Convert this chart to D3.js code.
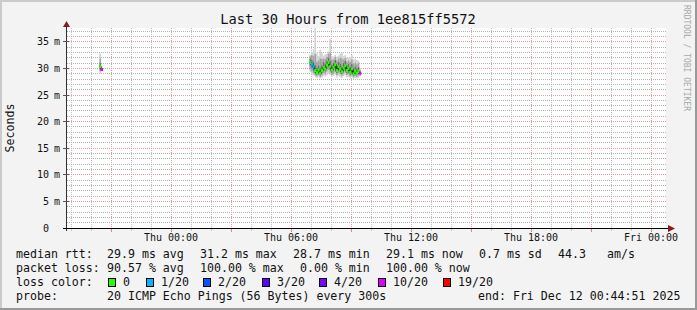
<!DOCTYPE html>
<html>
<head>
<meta charset="utf-8">
<script src="https://cdn.jsdelivr.net/npm/d3@7"></script>
<style>
html, body { margin: 0; padding: 0; background: #f3f3f3; }
svg { display: block; }
text { font-family: "DejaVu Sans Mono", monospace; fill: #111; }
</style>
</head>
<body>
<div id="chart"></div>
<script>
//VARIABLES GO HERE
var title = "Last 30 Hours from 1ee815ff5572";
var endTime = new Date("2025-12-12T00:44:51");
var spanHours = 30;
var stepSeconds = 300;

// two runs of data, start time of each and how many 5 minute steps
var segmentStarts = ["2025-12-10T20:25:00", "2025-12-11T06:55:00"];
var segmentLengths = [2, 31];

// values in ms, one per step
var medianMs = [30.3, 29.8,
  31.1, 30.8, 30.3, 29.6, 29.2, 29.7, 29.1, 29.6, 30.2, 29.9, 30.6, 31.1, 30.4, 29.7, 30.2, 30.7,
  29.6, 30.3, 29.9, 29.4, 30.1, 30.5, 29.6, 30.0, 29.3, 29.9, 29.0, 29.5, 29.1, 29.4, 29.1];
var lossCount = [0, 10,
  0, 1, 1, 0, 0, 0, 0, 0, 0, 0, 0, 0, 0, 0, 0, 0,
  0, 0, 0, 0, 0, 0, 0, 0, 0, 0, 0, 0, 0, 0, 10];
var minMs = [29.0, 29.5,
  29.3, 28.8, 28.7, 28.4, 28.2, 28.4, 28.1, 28.3, 28.6, 28.5, 28.8, 29.0, 28.7, 28.4, 28.6, 28.8,
  28.3, 28.6, 28.4, 28.2, 28.5, 28.7, 28.3, 28.4, 28.1, 28.4, 28.0, 28.2, 28.1, 28.2, 28.5];
var p10Ms = [29.4, 29.6,
  29.8, 29.4, 29.1, 28.7, 28.5, 28.8, 28.4, 28.7, 29.1, 28.9, 29.4, 29.7, 29.2, 28.8, 29.0, 29.3,
  28.7, 29.1, 28.9, 28.6, 29.0, 29.2, 28.7, 28.9, 28.5, 28.8, 28.3, 28.6, 28.4, 28.6, 28.7];
var p25Ms = [29.8, 29.7,
  30.5, 30.1, 29.7, 29.0, 28.8, 29.2, 28.7, 29.1, 29.6, 29.4, 30.0, 30.4, 29.8, 29.2, 29.6, 30.1,
  29.1, 29.7, 29.4, 28.9, 29.5, 29.9, 29.1, 29.5, 28.8, 29.4, 28.6, 29.0, 28.7, 28.9, 28.9];
var p75Ms = [31.0, 30.0,
  31.8, 31.6, 31.2, 30.7, 30.2, 30.6, 30.2, 30.6, 31.2, 30.9, 31.5, 32.0, 31.4, 30.7, 31.1, 31.6,
  30.6, 31.2, 30.9, 30.4, 31.0, 31.4, 30.5, 30.9, 30.3, 30.8, 29.9, 30.4, 30.0, 30.3, 29.4];
var p90Ms = [31.9, 30.1,
  32.3, 32.5, 32.4, 32.8, 31.3, 31.5, 31.9, 31.8, 31.9, 31.8, 32.2, 32.8, 33.0, 31.7, 31.7, 32.2,
  31.5, 31.8, 32.0, 31.9, 31.7, 32.0, 31.3, 31.5, 31.2, 31.7, 30.9, 31.1, 30.8, 31.0, 29.7];
var maxMs = [32.8, 30.3,
  32.6, 33.0, 33.6, 37.6, 32.8, 32.4, 33.5, 33.0, 32.4, 32.6, 32.8, 33.2, 35.5, 32.4, 32.2, 32.6,
  32.2, 32.4, 32.8, 33.0, 32.3, 32.5, 32.0, 32.0, 32.1, 32.5, 31.7, 31.8, 31.6, 31.4, 30.0];

var yMax = 37.6;
var yLabelValues = [0, 5, 10, 15, 20, 25, 30, 35];

var lossLevels = [0, 1, 2, 3, 4, 10, 19];
var lossLabels = ["0", "1/20", "2/20", "3/20", "4/20", "10/20", "19/20"];
var lossColors = ["#26ff00", "#00b8ff", "#0059ff", "#5e00ff", "#7e00ff", "#dd00ff", "#ff0000"];

var legendRows = [
  [["median rtt:", 16], ["29.9 ms avg", 107], ["31.2 ms max", 200], ["28.7 ms min", 293],
   ["29.1 ms now", 386], ["0.7 ms sd", 479], ["44.3", 558], ["am/s", 607]],
  [["packet loss:", 16], ["90.57 % avg", 107], ["100.00 % max", 200], ["0.00 % min", 300],
   ["100.00 % now", 386]],
  [["loss color:", 16]],
  [["probe:", 16], ["20 ICMP Echo Pings (56 Bytes) every 300s", 107],
   ["end: Fri Dec 12 00:44:51 2025", 478]]
];
var lossSwatchX = [108, 146, 203, 262, 319, 378, 443];

var W = 697, H = 310;
var plot = {left: 66, right: 666, top: 28, bottom: 228};

document.addEventListener('DOMContentLoaded', function () {
  draw();
}, false);

function buildSteps() {
  var steps = [];
  var k = 0;
  segmentStarts.forEach(function(s, si) {
    var t0 = new Date(s).getTime();
    var seg = [];
    for (var i = 0; i < segmentLengths[si]; i++) {
      seg.push({
        t: new Date(t0 + i * stepSeconds * 1000),
        t1: new Date(t0 + (i + 1) * stepSeconds * 1000),
        median: medianMs[k], loss: lossCount[k],
        min: minMs[k], p10: p10Ms[k], p25: p25Ms[k],
        p75: p75Ms[k], p90: p90Ms[k], max: maxMs[k]
      });
      k++;
    }
    steps.push(seg);
  });
  return steps;
}

function lossColor(n) {
  var c = lossColors[0];
  lossLevels.forEach(function(l, i) { if (n >= l) c = lossColors[i]; });
  return c;
}

function draw() {
  var startTime = new Date(endTime.getTime() - spanHours * 3600 * 1000);
  var x = d3.scaleTime().domain([startTime, endTime]).range([plot.left, plot.right]);
  var y = d3.scaleLinear().domain([0, yMax]).range([plot.bottom, plot.top]);
  var px = function(v) { return Math.floor(v) + 0.5; };

  var svg = d3.select("#chart").append("svg").attr("width", W).attr("height", H);

  // frame
  svg.append("rect").attr("width", W).attr("height", H).attr("fill", "#f3f3f3");
  svg.append("path").attr("d", "M0,0H" + W + "V2H2V" + H + "H0Z").attr("fill", "#cbcbcb");
  svg.append("path").attr("d", "M" + W + ",0V" + H + "H0V" + (H - 2) + "H" + (W - 2) + "V0Z").attr("fill", "#999999");

  svg.append("rect").attr("x", plot.left).attr("y", plot.top)
    .attr("width", plot.right - plot.left).attr("height", plot.bottom - plot.top)
    .attr("fill", "#ffffff");

  // grid, dotted like rrdtool
  var grid = svg.append("g");
  var hours = d3.timeHour.range(d3.timeHour.ceil(startTime), endTime);
  hours.forEach(function(h) {
    var major = h.getHours() % 3 === 0;
    grid.append("path")
      .attr("d", "M" + px(x(h)) + "," + plot.top + "V" + plot.bottom)
      .attr("stroke", major ? "#e0a0a0" : "#c0c0c0")
      .attr("stroke-dasharray", "1 1")
      .attr("fill", "none");
  });
  var yGridVals = d3.range(1, Math.floor(yMax) + 1);
  yGridVals.forEach(function(v) {
    var major = v % 5 === 0;
    grid.append("path")
      .attr("d", "M" + (plot.left + 1) + "," + px(y(v)) + "H" + plot.right)
      .attr("stroke", major ? "#e0a0a0" : "#b2b2b2")
      .attr("stroke-dasharray", "1 1")
      .attr("fill", "none");
  });

  // smoke
  var steps = buildSteps();
  var bands = [
    ["min", "p10", "#d2d2d2"], ["p90", "max", "#d2d2d2"],
    ["p10", "p25", "#a2a2a2"], ["p75", "p90", "#a2a2a2"],
    ["p25", "p75", "#6e6e6e"]
  ];
  steps.forEach(function(seg) {
    bands.forEach(function(b) {
      svg.append("g").selectAll("rect")
        .data(seg)
        .enter()
        .append("rect")
        .attr("x", function(d) { return x(d.t); })
        .attr("width", function(d) { return x(d.t1) - x(d.t); })
        .attr("y", function(d) { return y(d[b[1]]); })
        .attr("height", function(d) { return y(d[b[0]]) - y(d[b[1]]); })
        .attr("fill", b[2]);
    });

    var medLine = d3.line()
      .x(function(d) { return x(d.t); })
      .y(function(d) { return y(d.median); })
      .curve(d3.curveStepAfter);
    svg.append("path")
      .attr("d", medLine(seg.concat([{t: seg[seg.length - 1].t1, median: seg[seg.length - 1].median}])))
      .attr("fill", "none").attr("stroke", "#111").attr("stroke-width", 1.2);

    svg.append("g").selectAll("rect")
      .data(seg)
      .enter()
      .append("rect")
      .attr("x", function(d) { return x(d.t) - 0.3; })
      .attr("width", function(d) { return x(d.t1) - x(d.t) + 0.6; })
      .attr("y", function(d) { return y(d.median) - 1.5; })
      .attr("height", 3)
      .attr("fill", function(d) { return lossColor(d.loss); });
  });

  // axes
  var axisCol = "#333";
  svg.append("line").attr("x1", px(plot.left)).attr("x2", px(plot.left))
    .attr("y1", plot.bottom + 3).attr("y2", plot.top - 2).attr("stroke", axisCol);
  svg.append("line").attr("x1", plot.left - 3).attr("x2", plot.right + 3)
    .attr("y1", px(plot.bottom)).attr("y2", px(plot.bottom)).attr("stroke", "#000");
  svg.append("path")
    .attr("d", "M" + (plot.left - 3) + "," + (plot.top - 1) + "L" + (plot.left + 0.5) + "," + (plot.top - 7) + "L" + (plot.left + 4) + "," + (plot.top - 1) + "Z")
    .attr("fill", "#8b1a1a");
  svg.append("path")
    .attr("d", "M" + (plot.right + 2) + "," + (plot.bottom - 3) + "L" + (plot.right + 9) + "," + (plot.bottom + 0.5) + "L" + (plot.right + 2) + "," + (plot.bottom + 4) + "Z")
    .attr("fill", "#8b1a1a");

  hours.forEach(function(h) {
    var major = h.getHours() % 3 === 0;
    svg.append("line")
      .attr("x1", px(x(h))).attr("x2", px(x(h)))
      .attr("y1", plot.bottom + 1).attr("y2", plot.bottom + (major ? 4 : 3))
      .attr("stroke", major ? "#d98c8c" : "#c8c8c8");
  });
  yLabelValues.forEach(function(v) {
    if (v === 0) return;
    svg.append("line")
      .attr("x1", plot.left - 3).attr("x2", plot.left + 3)
      .attr("y1", px(y(v))).attr("y2", px(y(v)))
      .attr("stroke", "#555");
  });

  // tick labels
  svg.append("g").selectAll("text")
    .data(yLabelValues)
    .enter()
    .append("text")
    .attr("x", 49)
    .attr("y", function(v) { return y(v) + 3.6; })
    .attr("text-anchor", "end")
    .style("font-size", "10px")
    .text(function(v) { return v; });
  svg.append("g").selectAll("text")
    .data(yLabelValues.filter(function(v) { return v > 0; }))
    .enter()
    .append("text")
    .attr("x", 54)
    .attr("y", function(v) { return y(v) + 3.6; })
    .style("font-size", "10px")
    .text("m");

  var labelHours = d3.timeHour.every(6).range(startTime, endTime);
  svg.append("g").selectAll("text")
    .data(labelHours)
    .enter()
    .append("text")
    .attr("x", function(d) { return x(d); })
    .attr("y", 241)
    .attr("text-anchor", "middle")
    .style("font-size", "10px")
    .text(d3.timeFormat("%a %H:%M"));

  // titles
  svg.append("text").attr("x", 348).attr("y", 24).attr("text-anchor", "middle")
    .style("font-size", "13.7px").text(title);
  svg.append("text").attr("transform", "translate(14,128) rotate(-90)")
    .attr("text-anchor", "middle").style("font-size", "11.6px").text("Seconds");
  svg.append("text").attr("transform", "translate(684,5) rotate(90)")
    .style("font-size", "8px").style("fill", "#a8a8a8").text("RRDTOOL / TOBI OETIKER");

  // legend
  var rowY = [258, 272, 286, 300];
  legendRows.forEach(function(row, r) {
    row.forEach(function(item) {
      svg.append("text").attr("x", item[1]).attr("y", rowY[r])
        .style("font-size", "11.6px").style("white-space", "pre").text(item[0]);
    });
  });
  var sw = svg.append("g").selectAll("g")
    .data(lossLabels)
    .enter()
    .append("g");
  sw.append("rect")
    .attr("x", function(d, i) { return lossSwatchX[i] + 0.5; })
    .attr("y", 278.5).attr("width", 7).attr("height", 8)
    .attr("fill", function(d, i) { return lossColors[i]; })
    .attr("stroke", "#000");
  sw.append("text")
    .attr("x", function(d, i) { return lossSwatchX[i] + 15; })
    .attr("y", 286)
    .style("font-size", "11.6px")
    .text(function(d) { return d; });
}
</script>
</body>
</html>
